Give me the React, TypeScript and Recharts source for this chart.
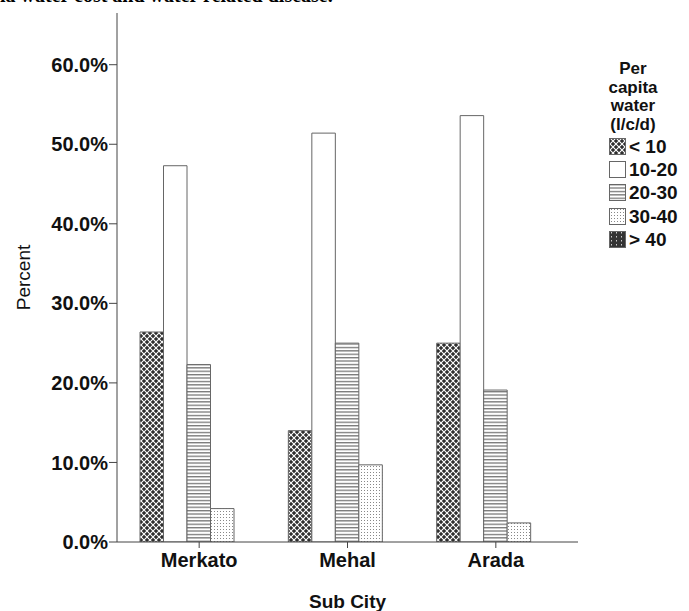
import { Bar, BarChart, XAxis, YAxis } from "recharts";

const subCities = ["Merkato", "Mehal", "Arada"];
const seriesNames = ["< 10", "10-20", "20-30", "30-40", "> 40"];
const lt10 = [26.4, 14.0, 25.0];
const s10to20 = [47.3, 51.4, 53.6];
const s20to30 = [22.3, 25.0, 19.1];
const s30to40 = [4.2, 9.7, 2.4];
const gt40 = [0, 0, 0];
const yTicks = [0, 10, 20, 30, 40, 50, 60];

const seriesValues = [lt10, s10to20, s20to30, s30to40, gt40];
const fills = ["url(#pCross)", "#ffffff", "url(#pHoriz)", "url(#pDots)", "url(#pDarkDots)"];

const data = subCities.map((city, i) => {
  const row: Record<string, string | number> = { city };
  seriesNames.forEach((n, k) => {
    row[n] = seriesValues[k][i];
  });
  return row;
});

const font = "Arial, 'Liberation Sans', sans-serif";
const tickStyle = { fontFamily: font, fontSize: 20, fontWeight: "bold", fill: "#111" };

// legend drawn as plain html next to the plot (Legend would eat plot space)
const LegendBox = () => (
  <div style={{ position: "absolute", left: 604, top: 60, width: 85, fontFamily: font, color: "#111" }}>
    <div
      style={{
        fontWeight: "bold",
        fontSize: 17,
        lineHeight: "18.5px",
        textAlign: "center",
        width: 58,
        marginBottom: 1,
      }}
    >
      Per
      <br />
      capita
      <br />
      water
      <br />
      (l/c/d)
    </div>
    {seriesNames.map((n, k) => (
      <div key={n} style={{ display: "flex", alignItems: "center", height: 23.4 }}>
        <svg width={24} height={18} style={{ marginRight: 1 }}>
          <rect x={5.5} y={0.5} width={16} height={16} fill={fills[k]} stroke="#666" />
        </svg>
        <span style={{ fontWeight: "bold", fontSize: 19 }}>{n}</span>
      </div>
    ))}
  </div>
);

export default function App() {
  return (
    <div
      style={{
        position: "absolute",
        left: 0,
        top: 0,
        width: 689,
        height: 611,
        background: "#fff",
        overflow: "hidden",
      }}
    >
      <div
        style={{
          position: "absolute",
          left: 0,
          top: -16,
          fontFamily: "'Liberation Serif', serif",
          fontWeight: "bold",
          fontSize: 20,
          whiteSpace: "nowrap",
        }}
      >
        ia water cost and water related disease.
      </div>
      <BarChart
        width={689}
        height={611}
        data={data}
        margin={{ top: 13, right: 111, bottom: 0, left: 0 }}
        barGap={0}
        barSize={23.5}
      >
        <defs>
          <pattern id="pCross" width={6} height={6} patternUnits="userSpaceOnUse">
            <rect width={6} height={6} fill="#2e2e2e" />
            <path d="M0,0 L6,6 M6,0 L0,6" stroke="#fff" strokeWidth={1.1} />
          </pattern>
          <pattern id="pHoriz" width={4} height={3.4} patternUnits="userSpaceOnUse">
            <rect width={4} height={3.4} fill="#fff" />
            <rect width={4} height={1.3} fill="#777" />
          </pattern>
          <pattern id="pDots" width={3} height={3} patternUnits="userSpaceOnUse">
            <rect width={3} height={3} fill="#fff" />
            <rect x={1} y={1} width={1} height={1} fill="#888" />
          </pattern>
          <pattern id="pDarkDots" width={5} height={4} patternUnits="userSpaceOnUse">
            <rect width={5} height={4} fill="#333" />
            <rect x={2} y={1} width={1} height={1.5} fill="#ccc" />
          </pattern>
        </defs>
        <XAxis
          dataKey="city"
          height={69}
          padding={{ left: 8, right: 8 }}
          axisLine={{ stroke: "#444" }}
          tickLine={{ stroke: "#444" }}
          tickSize={6}
          tickMargin={5}
          tick={tickStyle}
          label={{
            value: "Sub City",
            position: "insideBottom",
            offset: 3,
            style: { fontFamily: font, fontSize: 19, fontWeight: "bold", fill: "#111" },
          }}
        />
        <XAxis xAxisId="top" orientation="top" height={0} tick={false} tickLine={false} axisLine={{ stroke: "#999", strokeWidth: 1.5 }} />
        <YAxis
          width={117}
          domain={[0, 66.5]}
          ticks={yTicks}
          allowDataOverflow
          axisLine={{ stroke: "#444" }}
          tickLine={{ stroke: "#444" }}
          tickSize={8}
          tickMargin={1}
          tickFormatter={(v: number) => `${v.toFixed(1)}%`}
          tick={tickStyle}
          label={{
            value: "Percent",
            angle: -90,
            position: "insideLeft",
            offset: 23,
            style: { fontFamily: font, fontSize: 19, fill: "#111", textAnchor: "middle" },
          }}
        />
        <YAxis yAxisId="right" orientation="right" width={0} tick={false} tickLine={false} axisLine={{ stroke: "#999", strokeWidth: 1.5 }} />
        {seriesNames.map((n, k) => (
          <Bar
            key={n}
            dataKey={n}
            fill={fills[k]}
            stroke="#666"
            strokeWidth={1}
            isAnimationActive={false}
          />
        ))}
      </BarChart>
      <LegendBox />
    </div>
  );
}
